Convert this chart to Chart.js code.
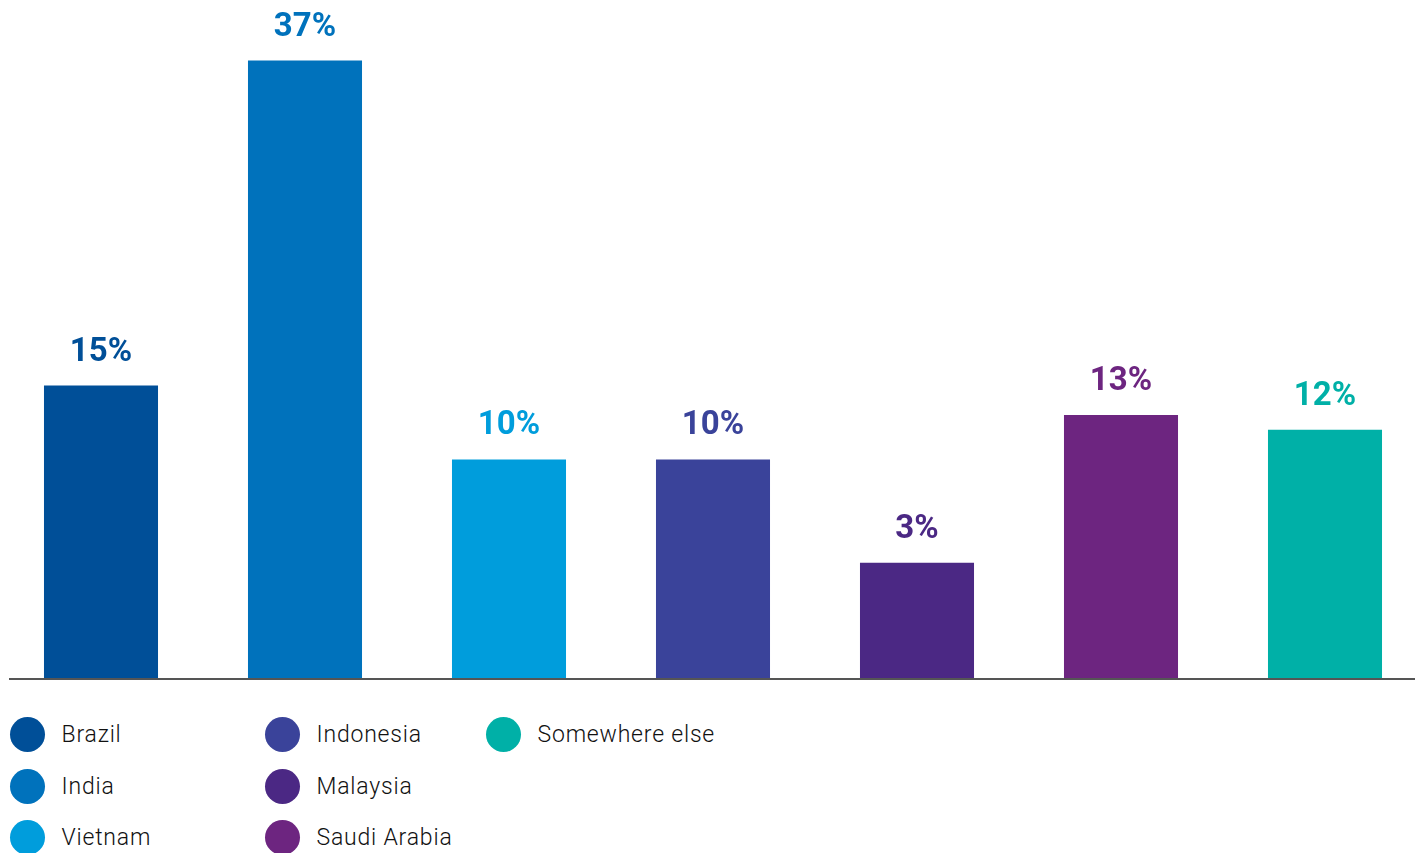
<!DOCTYPE html>
<html>
<head>
<meta charset="utf-8">
<script src="https://cdn.jsdelivr.net/npm/chart.js@4/dist/chart.umd.min.js"></script>
<style>
  html, body { margin: 0; padding: 0; background: #fff; overflow: hidden; }
  #wrap { position: relative; width: 1419px; height: 853px; overflow: hidden; }
  #chartBox { position: absolute; left: -1px; top: 0; width: 1428px; height: 690px; }
  .legend-item { position: absolute; height: 35px; display: flex; align-items: center;
    font-family: Roboto, "Open Sans", sans-serif; font-weight: 300; font-size: 23px;
    letter-spacing: 0.8px; color: #111; }
  .legend-item .dot { width: 35px; height: 35px; border-radius: 50%; margin-right: 17px; flex: none; }
</style>
</head>
<body>
<div id="wrap">
  <div id="chartBox"><canvas id="barChart"></canvas></div>
  <div id="legend"></div>
</div>
<script>
const countries = ["Brazil", "India", "Vietnam", "Indonesia", "Malaysia", "Saudi Arabia", "Somewhere else"];
const shares = [15, 37, 10, 10, 3, 13, 12];
const colors = ["#004f98", "#0072bc", "#009ddc", "#3a439a", "#4b2884", "#6d2580", "#00b0a7"];

// legend laid out in columns of three, like the original
const legendCols = [27, 282, 503];
const legendRows = [734, 786, 837];

const axisFloor = -4.8;

const valueLabels = {
  id: "valueLabels",
  afterDatasetsDraw(chart) {
    const ctx = chart.ctx;
    const meta = chart.getDatasetMeta(0);
    ctx.save();
    ctx.font = "bold 33px Roboto, sans-serif";
    ctx.textAlign = "center";
    ctx.textBaseline = "alphabetic";
    meta.data.forEach((bar, i) => {
      ctx.fillStyle = colors[i];
      ctx.fillText(shares[i] + "%", bar.x, bar.y - 25);
    });
    ctx.restore();
  },
};

const baseLine = {
  id: "baseLine",
  afterDatasetsDraw(chart) {
    const ctx = chart.ctx;
    const y = chart.scales.y.getPixelForValue(axisFloor) + 1;
    ctx.save();
    ctx.strokeStyle = "#555555";
    ctx.lineWidth = 2;
    ctx.beginPath();
    ctx.moveTo(10, y);
    ctx.lineTo(1416, y);
    ctx.stroke();
    ctx.restore();
  },
};

new Chart(document.getElementById("barChart"), {
  type: "bar",
  data: {
    labels: countries,
    datasets: [
      {
        data: shares,
        base: axisFloor,
        backgroundColor: colors,
        borderWidth: 0,
        categoryPercentage: 1,
        barPercentage: 0.559,
      },
    ],
  },
  options: {
    responsive: true,
    maintainAspectRatio: false,
    animation: false,
    layout: { padding: { top: 0, bottom: 12, left: 0, right: 0 } },
    plugins: {
      legend: { display: false },
      tooltip: { enabled: false },
    },
    scales: {
      x: { display: false },
      y: { display: false, min: axisFloor, max: 41.1 },
    },
  },
  plugins: [valueLabels, baseLine],
});

const legend = document.getElementById("legend");
countries.forEach((name, i) => {
  const col = Math.floor(i / 3);
  const row = i % 3;
  const item = document.createElement("div");
  item.className = "legend-item";
  item.style.left = legendCols[col] - 17.5 + "px";
  item.style.top = legendRows[row] - 17.5 + "px";
  const dot = document.createElement("span");
  dot.className = "dot";
  dot.style.background = colors[i];
  const txt = document.createElement("span");
  txt.textContent = name;
  item.appendChild(dot);
  item.appendChild(txt);
  legend.appendChild(item);
});
</script>
</body>
</html>
